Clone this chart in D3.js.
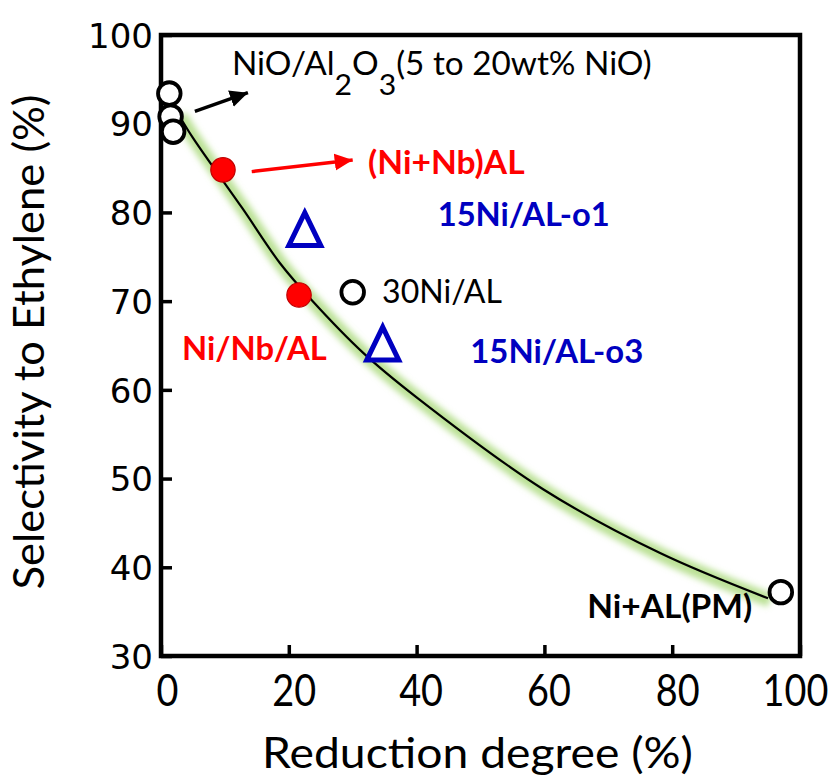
<!DOCTYPE html>
<html><head><meta charset="utf-8">
<script src="https://cdn.jsdelivr.net/npm/d3@7"></script>
<style>body{margin:0;background:#fff}</style>
</head><body>
<svg id="chart" width="834" height="782"></svg>
<script>
// ---------- data ----------
const openCircleX = [1.3, 1.5, 1.9, 30.0, 97.0];
const openCircleY = [93.4, 90.8, 89.1, 71.0, 37.2];
const nbCatalystX = [9.7, 21.6];
const nbCatalystY = [84.8, 70.7];
const oxidizedX = [22.5, 34.7];
const oxidizedY = [77.5, 64.6];
const fitCurveX = [2.7, 5.0, 12.7, 18.6, 23.6, 31.6, 40.1, 59.8, 78.1, 95.0];
const fitCurveY = [91.1, 88.4, 80.5, 74.3, 70.1, 64.2, 59.1, 48.8, 41.6, 36.5];
const xTickValues = [0, 20, 40, 60, 80, 100];
const yTickValues = [30, 40, 50, 60, 70, 80, 90, 100];
const xTitle = "Reduction degree (%)";
const yTitle = "Selectivity to Ethylene (%)";
const labelTexts = ["(Ni+Nb)AL", "15Ni/AL-o1", "30Ni/AL", "Ni/Nb/AL", "15Ni/AL-o3", "Ni+AL(PM)"];
const labelX = [32.4, 43.3, 34.6, 3.3, 48.4, 66.7];
const labelY = [84.3, 78.5, 69.8, 63.4, 63.0, 34.3];
const nioParts = [["NiO/Al", 0], ["2", 1], ["O", 0], ["3", 1], ["(5 to 20wt% NiO)", 0]];
const nioX = 11.1, nioY = 95.5;
const arrowFromX = [5.3, 14.2], arrowFromY = [91.4, 84.6];
const arrowToX = [13.6, 30.0], arrowToY = [93.5, 85.9];

// ---------- styles ----------
const m = {left: 161, right: 800, top: 35, bottom: 656};
const labelColors = ["#ff0000", "#0000c0", "#000000", "#ff0000", "#0000c0", "#000000"];
const labelWeights = ["bold", "bold", "normal", "bold", "bold", "bold"];
const labelWidths = [157, 172, 120, 145, 173, 165];
const xLabelShift = [6, 5, 4, 4, 5, -5];
const arrowColors = ["#000000", "#ff0000"];
const textFont = "Lato, 'Open Sans', sans-serif";

const svg = d3.select("#chart");
const x = d3.scaleLinear().domain([0, 100]).range([m.left, m.right]);
const y = d3.scaleLinear().domain([30, 100]).range([m.bottom, m.top]);

function fitWidth(sel, w) {
  const bb = sel.node().getBBox();
  return w / bb.width;
}

// defs
const defs = svg.append("defs");
defs.append("filter").attr("id", "glow").attr("x", "-20%").attr("y", "-20%").attr("width", "140%").attr("height", "140%")
  .append("feGaussianBlur").attr("stdDeviation", 3);
arrowColors.forEach((c, i) => {
  defs.append("marker").attr("id", "ah" + i).attr("markerUnits", "userSpaceOnUse")
    .attr("viewBox", "-18 -9 18 18").attr("refX", 0).attr("refY", 0)
    .attr("markerWidth", 18).attr("markerHeight", 18).attr("orient", "auto")
    .append("path").attr("d", "M0,0 L-18,-8.5 L-18,8.5 Z").attr("fill", c);
});

// axes
const xAxis = svg.append("g").attr("transform", `translate(0,${m.bottom})`)
  .call(d3.axisBottom(x).tickValues(xTickValues).tickSizeInner(-11).tickSizeOuter(0).tickFormat(d3.format("d")));
xAxis.select(".domain").remove();
xAxis.selectAll(".tick line").attr("stroke", "#000").attr("stroke-width", 3.5);
xAxis.selectAll(".tick text").attr("y", 50).attr("dy", 0)
  .attr("font-family", textFont).attr("font-size", 44).attr("fill", "#000")
  .attr("transform", (d, i) => `translate(${xLabelShift[i]},0) scale(0.86,1)`);

const yAxis = svg.append("g").attr("transform", `translate(${m.left},0)`)
  .call(d3.axisLeft(y).tickValues(yTickValues).tickSizeInner(-11).tickSizeOuter(0).tickPadding(8));
yAxis.select(".domain").remove();
yAxis.selectAll(".tick line").attr("stroke", "#000").attr("stroke-width", 3.5);
yAxis.selectAll(".tick text").attr("font-family", "'DejaVu Sans', Verdana, sans-serif")
  .attr("font-size", 34).attr("fill", "#000").attr("dy", "0.36em");

// frame
svg.append("rect").attr("x", m.left).attr("y", m.top).attr("width", m.right - m.left).attr("height", m.bottom - m.top)
  .attr("fill", "none").attr("stroke", "#000").attr("stroke-width", 4.5);

// titles
const xt = svg.append("text").text(xTitle).attr("font-family", textFont).attr("font-size", 42)
  .attr("text-anchor", "middle").attr("fill", "#000");
const sxt = fitWidth(xt, 431);
xt.attr("transform", `translate(477.5,768) scale(${sxt},1)`);

const yt = svg.append("text").text(yTitle).attr("font-family", textFont).attr("font-size", 42)
  .attr("text-anchor", "middle").attr("fill", "#000");
const syt = fitWidth(yt, 495);
yt.attr("transform", `translate(44,342) rotate(-90) scale(${syt},1)`);

// fit curve with glow
const curvePts = fitCurveX.map((d, i) => [d, fitCurveY[i]]);
const line = d3.line().x(d => x(d[0])).y(d => y(d[1])).curve(d3.curveCatmullRom.alpha(0.5));
svg.append("path").attr("d", line(curvePts)).attr("fill", "none").attr("stroke", "#9ed468")
  .attr("stroke-width", 14).attr("stroke-opacity", 0.7).attr("filter", "url(#glow)")
  .attr("transform", "translate(2,2)");
svg.append("path").attr("d", line(curvePts)).attr("fill", "none").attr("stroke", "#000").attr("stroke-width", 2.2);

// arrows
arrowFromX.forEach((d, i) => {
  svg.append("line").attr("x1", x(d)).attr("y1", y(arrowFromY[i]))
    .attr("x2", x(arrowToX[i])).attr("y2", y(arrowToY[i]))
    .attr("stroke", arrowColors[i]).attr("stroke-width", 3.5).attr("marker-end", `url(#ah${i})`);
});

// markers
const circ = d3.symbol().type(d3.symbolCircle).size(Math.PI * 11.3 * 11.3);
svg.selectAll(".oc").data(openCircleX.map((d, i) => [d, openCircleY[i]])).join("path")
  .attr("d", circ).attr("transform", d => `translate(${x(d[0])},${y(d[1])})`)
  .attr("fill", "#fff").attr("stroke", "#000").attr("stroke-width", 3.8);
const circR = d3.symbol().type(d3.symbolCircle).size(Math.PI * 12.2 * 12.2);
svg.selectAll(".nb").data(nbCatalystX.map((d, i) => [d, nbCatalystY[i]])).join("path")
  .attr("d", circR).attr("transform", d => `translate(${x(d[0])},${y(d[1])})`)
  .attr("fill", "#ff0000").attr("stroke", "#c00000").attr("stroke-width", 1.2);
const triH = 33, triB = 16;
const triPath = `M0,${-triH * 2 / 3}L${triB},${triH / 3}L${-triB},${triH / 3}Z`;
svg.selectAll(".tr").data(oxidizedX.map((d, i) => [d, oxidizedY[i]])).join("path")
  .attr("d", triPath).attr("transform", d => `translate(${x(d[0])},${y(d[1])})`)
  .attr("fill", "#fff").attr("stroke", "#0000c0").attr("stroke-width", 5).attr("stroke-linejoin", "miter");

// labels
labelTexts.forEach((t, i) => {
  const el = svg.append("text").text(t).attr("font-family", textFont).attr("font-size", 32)
    .attr("font-weight", labelWeights[i]).attr("fill", labelColors[i]);
  const s = fitWidth(el, labelWidths[i]);
  el.attr("transform", `translate(${x(labelX[i])},${y(labelY[i])}) scale(${s},1)`);
});

// NiO/Al2O3 label with subscripts
const nio = svg.append("text").attr("font-family", textFont).attr("font-size", 32).attr("fill", "#000");
let prevSub = 0;
nioParts.forEach(([t, sub]) => {
  nio.append("tspan").text(t).attr("dy", (sub - prevSub) * 20).attr("font-size", sub ? 29 : 32);
  prevSub = sub;
});
const sn = fitWidth(nio, 420);
nio.attr("transform", `translate(${x(nioX)},${y(nioY)}) scale(${sn},1)`);
</script>
</body></html>
